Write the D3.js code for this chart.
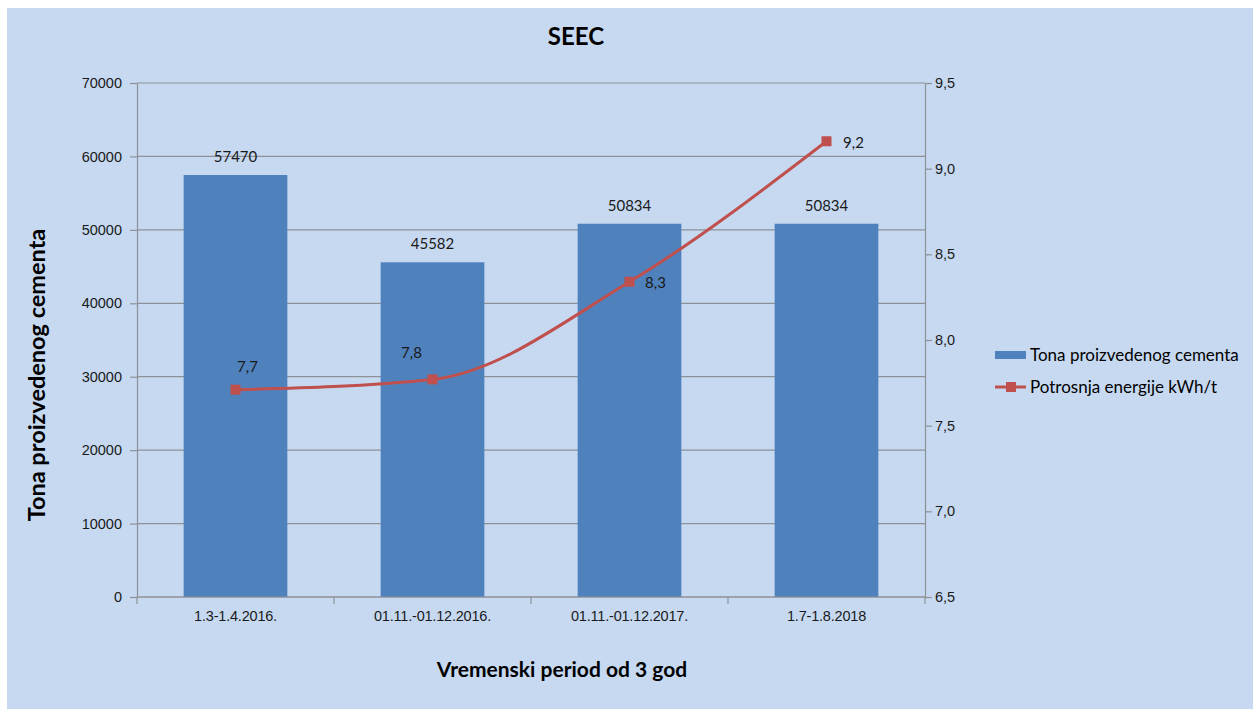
<!doctype html>
<html lang="en">
	<head>
		<meta charset="UTF-8" />
		<title>SEEC</title>
		<script src="https://d3js.org/d3.v7.min.js"></script>
		<style>
			body {
				margin: 0;
				background: #fff;
			}
			svg {
				display: block;
				font-family: Lato, 'Open Sans', sans-serif;
			}
			.grid line {
				stroke: #8e9297;
				stroke-width: 1.2px;
			}
			.axis path,
			.axis line {
				stroke: #8e9297;
				stroke-width: 1.2px;
			}
			.axis text {
				font-size: 14.5px;
				fill: #1a1a1a;
			}
		</style>
	</head>
	<body>
		<svg width="1253" height="709"></svg>
		<script>
			const periods = ['1.3-1.4.2016.', '01.11.-01.12.2016.', '01.11.-01.12.2017.', '1.7-1.8.2018']
			const tonnes = [57470, 45582, 50834, 50834]
			const energy = [7.71, 7.77, 8.34, 9.16]
			const leftTicks = [0, 10000, 20000, 30000, 40000, 50000, 60000, 70000]
			const rightTicks = [6.5, 7.0, 7.5, 8.0, 8.5, 9.0, 9.5]

			const svg = d3.select('svg')
			const margin = { top: 83, left: 137, right: 925, bottom: 597 }

			// chart area background (white strip top and left)
			svg.append('rect')
				.attr('x', 7)
				.attr('y', 8)
				.attr('width', 1253 - 7)
				.attr('height', 709 - 8)
				.attr('fill', '#c6d9f1')

			const x = d3.scaleBand()
				.domain(periods)
				.range([margin.left, margin.right])
				.paddingInner(0.9 / 1.9)
				.paddingOuter(0.45 / 1.9)

			const yL = d3.scaleLinear().domain([0, 70000]).range([margin.bottom, margin.top])
			const yR = d3.scaleLinear().domain([6.5, 9.5]).range([margin.bottom, margin.top])

			// gridlines
			svg.append('g')
				.attr('class', 'grid')
				.selectAll('line')
				.data(leftTicks)
				.join('line')
				.attr('x1', margin.left)
				.attr('x2', margin.right)
				.attr('y1', (d) => yL(d))
				.attr('y2', (d) => yL(d))

			// bars
			svg.append('g')
				.selectAll('rect')
				.data(tonnes)
				.join('rect')
				.attr('x', (d, i) => x(periods[i]))
				.attr('y', (d) => yL(d))
				.attr('width', x.bandwidth())
				.attr('height', (d) => yL(0) - yL(d))
				.attr('fill', '#4f81bd')

			svg.append('g')
				.selectAll('text')
				.data(tonnes)
				.join('text')
				.attr('x', (d, i) => x(periods[i]) + x.bandwidth() / 2)
				.attr('y', (d) => yL(d) - 13)
				.attr('text-anchor', 'middle')
				.attr('font-size', 15)
				.attr('fill', '#1a1a1a')
				.text((d) => d)

			// axes
			svg.append('g')
				.attr('class', 'axis')
				.attr('transform', `translate(${margin.left},0)`)
				.call(d3.axisLeft(yL).tickValues(leftTicks).tickSize(7).tickSizeOuter(0).tickPadding(8).tickFormat(d3.format('d')))

			svg.append('g')
				.attr('class', 'axis')
				.attr('transform', `translate(${margin.right},0)`)
				.call(
					d3.axisRight(yR)
						.tickValues(rightTicks)
						.tickSize(7)
						.tickSizeOuter(0)
						.tickPadding(3)
						.tickFormat((d) => d3.format('.1f')(d).replace('.', ','))
				)

			const xAxis = svg.append('g')
				.attr('class', 'axis')
				.attr('transform', `translate(0,${margin.bottom})`)
				.call(d3.axisBottom(x).tickSize(0).tickPadding(14))
			xAxis.select('path').attr('d', `M${margin.left},0H${margin.right}`)
			xAxis.selectAll('text').attr('font-size', 14.5).attr('letter-spacing', '-0.2px')

			// category boundary ticks
			const bounds = d3.range(periods.length + 1).map((i) => margin.left + (i * (margin.right - margin.left)) / periods.length)
			svg.append('g')
				.attr('class', 'grid')
				.selectAll('line')
				.data(bounds)
				.join('line')
				.attr('x1', (d) => d)
				.attr('x2', (d) => d)
				.attr('y1', margin.bottom)
				.attr('y2', margin.bottom + 7)

			// line series
			const cx = (i) => x(periods[i]) + x.bandwidth() / 2
			const line = d3.line()
				.x((d, i) => cx(i))
				.y((d) => yR(d))
				.curve(d3.curveMonotoneX)

			svg.append('path')
				.datum(energy)
				.attr('d', line)
				.attr('fill', 'none')
				.attr('stroke', '#c0504d')
				.attr('stroke-width', 3)

			svg.append('g')
				.selectAll('rect')
				.data(energy)
				.join('rect')
				.attr('x', (d, i) => cx(i) - 5)
				.attr('y', (d) => yR(d) - 5)
				.attr('width', 10)
				.attr('height', 10)
				.attr('fill', '#c0504d')

			const labelOffsets = [
				[12, -18],
				[-21, -21],
				[26, 6],
				[27, 7],
			]
			svg.append('g')
				.selectAll('text')
				.data(energy)
				.join('text')
				.attr('x', (d, i) => cx(i) + labelOffsets[i][0])
				.attr('y', (d, i) => yR(d) + labelOffsets[i][1])
				.attr('text-anchor', 'middle')
				.attr('font-size', 15)
				.attr('fill', '#1a1a1a')
				.text((d) => d3.format('.1f')(d).replace('.', ','))

			// titles
			svg.append('text')
				.attr('x', 576)
				.attr('y', 45)
				.attr('text-anchor', 'middle')
				.attr('font-size', 24)
				.attr('font-weight', 'bold')
				.text('SEEC')

			svg.append('text')
				.attr('transform', 'translate(45,375) rotate(-90)')
				.attr('text-anchor', 'middle')
				.attr('font-size', 23.5)
				.attr('font-weight', 'bold')
				.text('Tona proizvedenog cementa')

			svg.append('text')
				.attr('x', 562)
				.attr('y', 677)
				.attr('text-anchor', 'middle')
				.attr('font-size', 21)
				.attr('font-weight', 'bold')
				.text('Vremenski period od 3 god')

			// legend
			const legend = svg.append('g').attr('transform', 'translate(995,0)')
			legend.append('rect').attr('x', 0).attr('y', 351).attr('width', 31).attr('height', 8).attr('fill', '#4f81bd')
			legend.append('text').attr('x', 35).attr('y', 361).attr('font-size', 17).text('Tona proizvedenog cementa')
			legend.append('line').attr('x1', 0).attr('x2', 31).attr('y1', 387).attr('y2', 387).attr('stroke', '#c0504d').attr('stroke-width', 3)
			legend.append('rect').attr('x', 11).attr('y', 382).attr('width', 10).attr('height', 10).attr('fill', '#c0504d')
			legend.append('text').attr('x', 35).attr('y', 393).attr('font-size', 17).text('Potrosnja energije kWh/t')
		</script>
	</body>
</html>
